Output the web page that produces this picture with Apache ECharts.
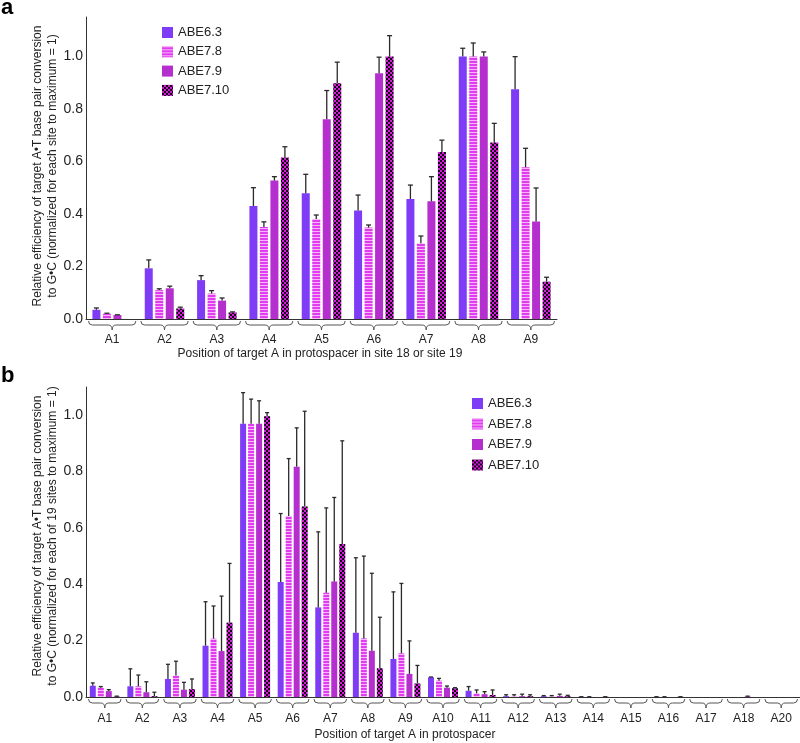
<!DOCTYPE html>
<html>
<head>
<meta charset="utf-8">
<script src="https://cdn.jsdelivr.net/npm/echarts@6/dist/echarts.min.js"></script>
<style>
html,body{margin:0;padding:0;background:#fff;}
#chart{width:800px;height:743px;}
</style>
</head>
<body>
<div id="chart"></div>
<script>
// ---------------- DATA ----------------
const seriesNames = ['ABE6.3', 'ABE7.8', 'ABE7.9', 'ABE7.10'];
const categoriesA = ['A1', 'A2', 'A3', 'A4', 'A5', 'A6', 'A7', 'A8', 'A9'];
const categoriesB = ['A1', 'A2', 'A3', 'A4', 'A5', 'A6', 'A7', 'A8', 'A9', 'A10',
                     'A11', 'A12', 'A13', 'A14', 'A15', 'A16', 'A17', 'A18', 'A20'];
const yTickValues = [0, 0.2, 0.4, 0.6, 0.8, 1.0];

// Panel a: relative efficiency (site 18 or site 19) and error (SD, upper)
const a_ABE6_3      = [0.035, 0.193, 0.148, 0.430, 0.479, 0.413, 0.457, 1.000, 0.875];
const a_ABE6_3_err  = [0.007, 0.032, 0.017, 0.070, 0.072, 0.059, 0.053, 0.031, 0.124];
const a_ABE7_8      = [0.020, 0.110, 0.097, 0.350, 0.381, 0.348, 0.288, 1.000, 0.578];
const a_ABE7_8_err  = [0.002, 0.005, 0.011, 0.020, 0.015, 0.010, 0.028, 0.051, 0.072];
const a_ABE7_9      = [0.015, 0.117, 0.070, 0.527, 0.761, 0.936, 0.448, 1.000, 0.371];
const a_ABE7_9_err  = [0.001, 0.008, 0.010, 0.015, 0.109, 0.061, 0.094, 0.017, 0.128];
const a_ABE7_10     = [0.000, 0.040, 0.025, 0.615, 0.898, 1.000, 0.636, 0.672, 0.142];
const a_ABE7_10_err = [0.000, 0.005, 0.002, 0.041, 0.080, 0.079, 0.045, 0.073, 0.017];

// Panel b: relative efficiency (19 sites) and error (SD, upper)
const b_ABE6_3      = [0.040, 0.038, 0.064, 0.182, 0.970, 0.408, 0.318, 0.228, 0.135, 0.070, 0.022, 0.003, 0.003, 0.001, 0.000, 0.001, 0.000, 0.000, 0.000];
const b_ABE6_3_err  = [0.010, 0.062, 0.052, 0.156, 0.110, 0.243, 0.268, 0.266, 0.238, 0.001, 0.015, 0.005, 0.002, 0.000, 0.000, 0.000, 0.000, 0.000, 0.000];
const b_ABE7_8      = [0.033, 0.038, 0.076, 0.207, 0.970, 0.642, 0.370, 0.208, 0.155, 0.058, 0.013, 0.003, 0.003, 0.001, 0.000, 0.001, 0.000, 0.000, 0.000];
const b_ABE7_8_err  = [0.004, 0.040, 0.051, 0.116, 0.087, 0.204, 0.301, 0.292, 0.248, 0.008, 0.012, 0.005, 0.002, 0.000, 0.000, 0.000, 0.000, 0.000, 0.000];
const b_ABE7_9      = [0.021, 0.017, 0.026, 0.163, 0.970, 0.817, 0.410, 0.164, 0.082, 0.033, 0.010, 0.003, 0.004, 0.000, 0.000, 0.000, 0.000, 0.002, 0.000];
const b_ABE7_9_err  = [0.005, 0.037, 0.026, 0.195, 0.081, 0.138, 0.298, 0.275, 0.117, 0.006, 0.009, 0.007, 0.006, 0.000, 0.000, 0.000, 0.000, 0.001, 0.000];
const b_ABE7_10     = [0.002, 0.003, 0.028, 0.264, 0.996, 0.676, 0.543, 0.102, 0.048, 0.031, 0.007, 0.003, 0.003, 0.001, 0.000, 0.001, 0.000, 0.000, 0.000];
const b_ABE7_10_err = [0.001, 0.014, 0.036, 0.210, 0.013, 0.338, 0.366, 0.181, 0.064, 0.002, 0.018, 0.005, 0.003, 0.000, 0.000, 0.000, 0.000, 0.000, 0.000];

// ---------------- STYLE ----------------
const FONT = '"Liberation Sans", Arial, Helvetica, sans-serif';
const TEXT = '#222';
const AXIS = '#333';

function makeCanvas(w, h, draw) {
  const c = document.createElement('canvas');
  c.width = w; c.height = h;
  draw(c.getContext('2d'));
  return c;
}
const stripeCanvas = makeCanvas(4, 3, g => {
  g.fillStyle = '#E23CF0'; g.fillRect(0, 0, 4, 3);
  g.fillStyle = '#F7B6F9'; g.fillRect(0, 0, 4, 1);
});
const checkerCanvas = makeCanvas(4, 4, g => {
  g.fillStyle = '#D21ED6'; g.fillRect(0, 0, 4, 4);
  g.fillStyle = '#16001A'; g.fillRect(0, 0, 2, 2); g.fillRect(2, 2, 2, 2);
});
const fills = [
  '#7E3CF6',
  { image: stripeCanvas, repeat: 'repeat' },
  '#B52FCE',
  { image: checkerCanvas, repeat: 'repeat' }
];

const panelA = {
  vals: [a_ABE6_3, a_ABE7_8, a_ABE7_9, a_ABE7_10],
  errs: [a_ABE6_3_err, a_ABE7_8_err, a_ABE7_9_err, a_ABE7_10_err],
  barWidth: 8, gapPx: 2.5, cap: 5
};
const panelB = {
  vals: [b_ABE6_3, b_ABE7_8, b_ABE7_9, b_ABE7_10],
  errs: [b_ABE6_3_err, b_ABE7_8_err, b_ABE7_9_err, b_ABE7_10_err],
  barWidth: 6, gapPx: 2, cap: 4
};

function errorRender(k, panel) {
  return function (params, api) {
    const x = api.value(0), v = api.value(1), e = api.value(2);
    if (!(e > 0) && !(v > 0)) return null;
    const p0 = api.coord([x, v]);
    const p1 = api.coord([x, v + e]);
    const off = (k - 1.5) * (panel.barWidth + panel.gapPx);
    const cx = p0[0] + off;
    const h = panel.cap / 2;
    const st = { stroke: '#2a2a2a', lineWidth: 1.3 };
    return {
      type: 'group',
      children: [
        { type: 'line', shape: { x1: cx, y1: p0[1], x2: cx, y2: p1[1] }, style: st },
        { type: 'line', shape: { x1: cx - h, y1: p1[1], x2: cx + h, y2: p1[1] }, style: st }
      ]
    };
  };
}

function braceRender(params, api) {
  const i = api.value(0);
  const p = api.coord([i, 0]);
  const w = api.size([1, 0])[0];
  const cx = p[0], y = p[1] + 1;
  const xl = cx - w / 2 + 2.5, xr = cx + w / 2 - 2.5;
  const d = 'M' + xl + ',' + (y + 1) +
    ' Q' + xl + ',' + (y + 5) + ' ' + (xl + 4) + ',' + (y + 5) +
    ' L' + (cx - 4) + ',' + (y + 5) +
    ' Q' + cx + ',' + (y + 5) + ' ' + cx + ',' + (y + 10) +
    ' Q' + cx + ',' + (y + 5) + ' ' + (cx + 4) + ',' + (y + 5) +
    ' L' + (xr - 4) + ',' + (y + 5) +
    ' Q' + xr + ',' + (y + 5) + ' ' + xr + ',' + (y + 1);
  return { type: 'path', shape: { pathData: d }, style: { fill: 'none', stroke: '#555', lineWidth: 1 } };
}

function buildSeries(panel, cats, idx) {
  const out = [];
  for (let k = 0; k < 4; k++) {
    out.push({
      type: 'bar', name: seriesNames[k], xAxisIndex: idx, yAxisIndex: idx,
      data: panel.vals[k], barWidth: panel.barWidth,
      barGap: (panel.gapPx / panel.barWidth * 100) + '%',
      itemStyle: { color: fills[k] }, z: 2
    });
  }
  for (let k = 0; k < 4; k++) {
    out.push({
      type: 'custom', name: seriesNames[k] + ' error', xAxisIndex: idx, yAxisIndex: idx,
      data: panel.vals[k].map((v, i) => [i, v, panel.errs[k][i]]),
      encode: { x: 0, y: 1 }, renderItem: errorRender(k, panel), z: 3, clip: false
    });
  }
  out.push({
    type: 'custom', name: 'braces', xAxisIndex: idx, yAxisIndex: idx,
    data: cats.map((c, i) => [i, 0]), encode: { x: 0, y: 1 },
    renderItem: braceRender, z: 1, clip: false, silent: true
  });
  return out;
}

function yAxisCfg(idx, max) {
  return {
    gridIndex: idx, type: 'value', min: 0, max: max, interval: 0.2,
    axisLine: { show: true, lineStyle: { color: AXIS, width: 1 } },
    axisTick: { show: false },
    splitLine: { show: false },
    axisLabel: {
      customValues: yTickValues,
      formatter: v => (Math.abs(v * 5 - Math.round(v * 5)) < 1e-6 ? v.toFixed(1) : ''),
      fontSize: 14, color: TEXT, fontFamily: FONT, margin: 3
    }
  };
}
function xAxisCfg(idx, cats, margin) {
  return {
    gridIndex: idx, type: 'category', data: cats,
    axisLine: { show: true, lineStyle: { color: AXIS, width: 1 } },
    axisTick: { show: false },
    splitLine: { show: false },
    axisLabel: { interval: 0, margin: margin, fontSize: 12, color: TEXT, fontFamily: FONT }
  };
}
function legendCfg(left, top, gap) {
  return {
    data: seriesNames, orient: 'vertical', left: left, top: top,
    itemWidth: 11, itemHeight: 11, itemGap: gap, icon: 'rect',
    selectedMode: false,
    textStyle: { fontSize: 13, color: TEXT, fontFamily: FONT }
  };
}

const option = {
  animation: false,
  backgroundColor: '#fff',
  textStyle: { fontFamily: FONT },
  grid: [
    { left: 86, top: 17, width: 471, height: 302 },
    { left: 86, top: 387, width: 718, height: 310 }
  ],
  xAxis: [xAxisCfg(0, categoriesA, 15), xAxisCfg(1, categoriesB, 16)],
  yAxis: [yAxisCfg(0, 1.15), yAxisCfg(1, 1.1)],
  legend: [legendCfg(157, 21, 6.3), legendCfg(467, 392, 7.5)],
  series: [].concat(buildSeries(panelA, categoriesA, 0), buildSeries(panelB, categoriesB, 1)),
  graphic: [
    { type: 'text', left: 1, top: -3, style: { text: 'a', font: 'bold 22px ' + FONT, fill: '#000' } },
    { type: 'text', left: 1, top: 365, style: { text: 'b', font: 'bold 22px ' + FONT, fill: '#000' } },
    { type: 'text', x: 45, y: 166, rotation: Math.PI / 2,
      style: { text: 'Relative efficiency of target A\u2022T base pair conversion\nto G\u2022C (normalized for each site to maximum = 1)',
               fontSize: 12, lineHeight: 15, fontFamily: FONT, fill: TEXT, align: 'center', verticalAlign: 'middle' } },
    { type: 'text', x: 45, y: 536, rotation: Math.PI / 2,
      style: { text: 'Relative efficiency of target A\u2022T base pair conversion\nto G\u2022C (normalized for each of 19 sites to maximum = 1)',
               fontSize: 12, lineHeight: 15, fontFamily: FONT, fill: TEXT, align: 'center', verticalAlign: 'middle' } },
    { type: 'text', x: 320, y: 354,
      style: { text: 'Position of target A in protospacer in site 18 or site 19',
               fontSize: 12, fontFamily: FONT, fill: TEXT, align: 'center', verticalAlign: 'middle' } },
    { type: 'text', x: 405, y: 735,
      style: { text: 'Position of target A in protospacer',
               fontSize: 12, fontFamily: FONT, fill: TEXT, align: 'center', verticalAlign: 'middle' } }
  ]
};

const chart = echarts.init(document.getElementById('chart'), null, { renderer: 'canvas' });
chart.setOption(option);
</script>
</body>
</html>
